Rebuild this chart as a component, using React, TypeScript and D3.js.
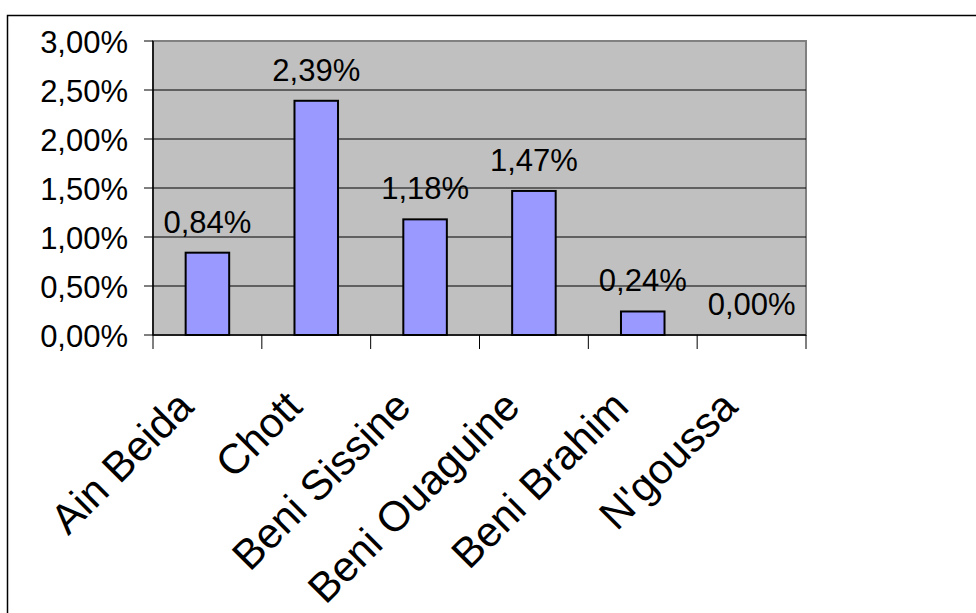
import React from "react";
import * as d3 from "d3";

const categories = ["Ain Beida", "Chott", "Beni Sissine", "Beni Ouaguine", "Beni Brahim", "N'goussa"];
const values = [0.84, 2.39, 1.18, 1.47, 0.24, 0.0];
const yTicks = [0, 0.5, 1, 1.5, 2, 2.5, 3];

const W = 976;
const H = 613;
const plot = { left: 153, top: 41, right: 806, bottom: 335 };
const FONT = "'Liberation Sans', Arial, sans-serif";
// number labels are drawn slightly taller than wide
const SY = 1.04;

const fmt = (v: number) => v.toFixed(2).replace(".", ",") + "%";

export default function App() {
  const x = d3
    .scaleBand<string>()
    .domain(categories)
    .range([plot.left, plot.right])
    .paddingInner(0)
    .paddingOuter(0);
  const y = d3.scaleLinear().domain([0, 3]).range([plot.bottom, plot.top]);
  const bw = x.bandwidth() * 0.4;
  const tickXs = [...categories.map((c) => x(c) as number), plot.right];

  return (
    <svg
      width={W}
      height={H}
      style={{ position: "absolute", left: 0, top: 0, background: "#fff" }}
      fontFamily={FONT}
    >
      {/* chart frame */}
      <rect x={7.5} y={15.5} width={W + 10} height={H + 10} fill="#fff" stroke="#000" strokeWidth={1.5} />

      {/* plot area */}
      <rect
        x={plot.left}
        y={plot.top}
        width={plot.right - plot.left}
        height={plot.bottom - plot.top}
        fill="#C0C0C0"
        stroke="#808080"
        strokeWidth={2}
      />

      {/* gridlines */}
      {yTicks.slice(1, -1).map((t) => (
        <line key={t} x1={plot.left} x2={plot.right} y1={y(t)} y2={y(t)} stroke="#000" strokeWidth={1} />
      ))}

      {/* bars */}
      {categories.map((c, i) =>
        values[i] > 0 ? (
          <rect
            key={c}
            x={(x(c) as number) + x.bandwidth() / 2 - bw / 2}
            y={y(values[i])}
            width={bw}
            height={y(0) - y(values[i])}
            fill="#9999FF"
            stroke="#000"
            strokeWidth={2}
          />
        ) : null
      )}

      {/* axes */}
      <line x1={plot.left} x2={plot.left} y1={plot.top} y2={plot.bottom} stroke="#000" strokeWidth={1.5} />
      <line x1={plot.left} x2={plot.right} y1={plot.bottom} y2={plot.bottom} stroke="#000" strokeWidth={1.5} />

      {yTicks.map((t) => (
        <g key={t}>
          <line x1={plot.left - 9} x2={plot.left} y1={y(t)} y2={y(t)} stroke="#000" strokeWidth={1} />
          <text
            transform={`translate(${plot.left - 25}, ${y(t) + 11.5}) scale(1, ${SY})`}
            textAnchor="end"
            fontSize={31}
            fill="#000"
          >
            {fmt(t)}
          </text>
        </g>
      ))}

      {tickXs.map((tx, i) => (
        <line key={i} x1={tx} x2={tx} y1={plot.bottom} y2={plot.bottom + 14} stroke="#000" strokeWidth={1} />
      ))}

      {/* value labels */}
      {categories.map((c, i) => (
        <text
          key={c}
          transform={`translate(${(x(c) as number) + x.bandwidth() / 2}, ${y(values[i]) - 20}) scale(1, ${SY})`}
          textAnchor="middle"
          fontSize={31}
          fill="#000"
        >
          {fmt(values[i])}
        </text>
      ))}

      {/* category labels */}
      {categories.map((c) => {
        const cx = (x(c) as number) + x.bandwidth() / 2 - 12;
        const cy = 409;
        return (
          <text
            key={c}
            transform={`translate(${cx}, ${cy}) rotate(-45)`}
            textAnchor="end"
            fontSize={42}
            fill="#000"
          >
            {c}
          </text>
        );
      })}
    </svg>
  );
}
